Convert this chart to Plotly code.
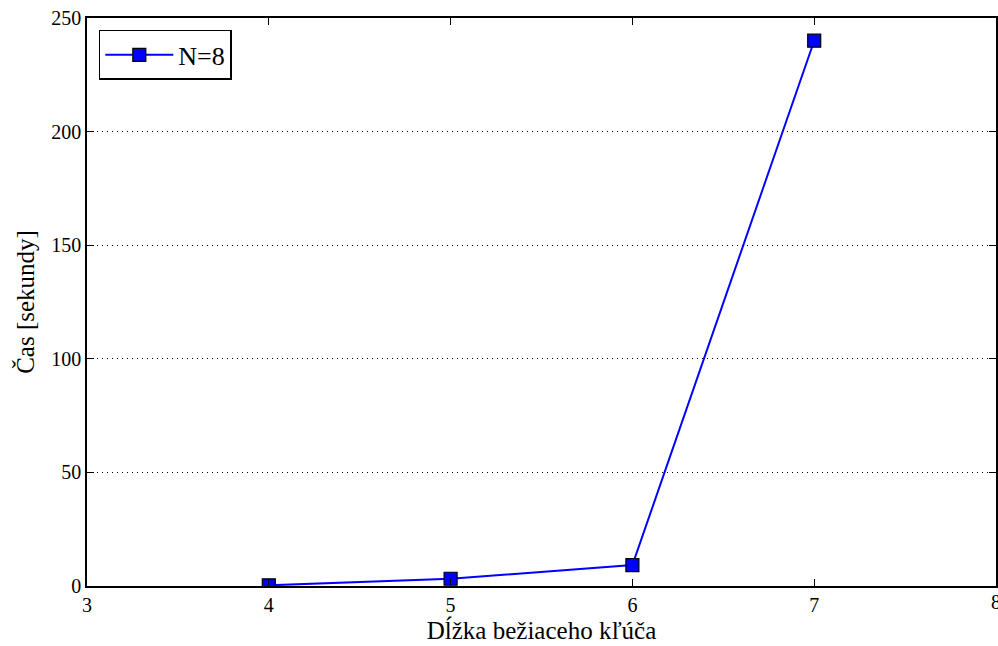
import plotly.graph_objects as go

key_length = [4, 5, 6, 7]
time_sec = [0.3, 3.2, 9.2, 240.0]
series_name = "N=8"
x_title = "Dĺžka bežiaceho kľúča"
y_title = "Čas [sekundy]"
x_ticks = [3, 4, 5, 6, 7, 8]
y_ticks = [0, 50, 100, 150, 200, 250]

FONT = "Liberation Serif"

fig = go.Figure()
fig.add_trace(go.Scatter(
    x=key_length, y=time_sec, name=series_name, mode="lines+markers",
    line=dict(color="#0000ff", width=2),
    marker=dict(symbol="square", size=13, color="#0000ff",
                line=dict(color="black", width=1.2)),
    showlegend=True,
))

axis_common = dict(
    showline=True, linecolor="black", linewidth=1.5, mirror="ticks",
    ticks="inside", ticklen=7, tickwidth=1, tickcolor="black",
    zeroline=False, automargin=False,
    tickfont=dict(family=FONT, size=20, color="black"),
)

fig.update_xaxes(range=[3, 8], tickvals=x_ticks, showgrid=False,
                 title=dict(text=x_title, font=dict(family=FONT, size=25, color="black"), standoff=4),
                 **axis_common)
fig.update_yaxes(range=[0, 250], tickvals=y_ticks, showgrid=True,
                 gridcolor="black", gridwidth=1, griddash="1px,4px",
                 title=dict(text=y_title, font=dict(family=FONT, size=25, color="black"), standoff=10),
                 **axis_common)

# last x tick label sits on the right edge (partly clipped, as in the reference)
fig.add_annotation(x=x_ticks[-1], y=0, xref="x", yref="paper", yanchor="top",
                   text=str(x_ticks[-1]), showarrow=False, yshift=-3,
                   font=dict(family=FONT, size=20, color="black"))

fig.update_layout(
    width=998, height=646,
    margin=dict(l=87, r=2, t=18, b=60),
    paper_bgcolor="white", plot_bgcolor="white",
    font=dict(family=FONT, color="black"),
    legend=dict(x=0.013, y=0.979, xanchor="left", yanchor="top",
                bgcolor="white", bordercolor="black", borderwidth=1.5,
                font=dict(family=FONT, size=26, color="black"),
                itemwidth=68),
)

fig.write_html(
    "out.html",
    config={"displayModeBar": False},
    post_script="document.body.style.margin='0';document.body.style.overflow='hidden';",
)
